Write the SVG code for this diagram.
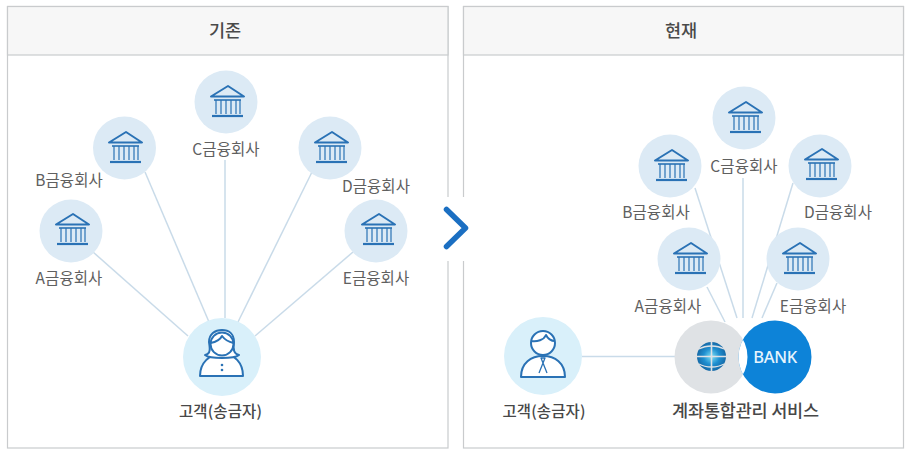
<svg xmlns="http://www.w3.org/2000/svg" width="910" height="455" viewBox="0 0 910 455">
<style>
.panel{fill:#fff;stroke:#c9cbcd;stroke-width:1.2}
.head{fill:#f7f7f7;stroke:#c9cbcd;stroke-width:1.2}
.title{font:500 17.5px "Noto Sans CJK KR","Noto Sans",sans-serif;fill:#4a4a4a;text-anchor:middle}
.lab{font:400 15.5px "Noto Sans CJK KR","Noto Sans",sans-serif;fill:#606060;text-anchor:middle;letter-spacing:.1px}
.labb{font:500 15.5px "Noto Sans CJK KR","Noto Sans",sans-serif;fill:#484848;text-anchor:middle;letter-spacing:.1px}
.bankc{fill:#dceaf5}
.custc{fill:#d9f0fa}
.ic{fill:none;stroke:#2a72b5;stroke-width:2;stroke-linejoin:round}
.icf{fill:#fff;stroke:#2a72b5;stroke-width:2;stroke-linejoin:round}
.conn line{stroke:#c9dbe9;stroke-width:1.5}
</style>
<defs>
<g id="bank">
<path class="ic" d="M-16 -5.500L1 -16L17 -5.500Z"/>
<path d="M-13 -2H14" fill="none" stroke="#2a72b5" stroke-width="1.600"/>
<path d="M-11 -2V12M-6 -2V12M-1 -2V12M4 -2V12M9 -2V12M13 -2V12" fill="none" stroke="#2a72b5" stroke-width="1.200"/>
<path d="M-15 14H16" fill="none" stroke="#2a72b5" stroke-width="2.200"/>
</g>
<radialGradient id="globe" cx=".5" cy=".5" r=".55">
<stop offset="0" stop-color="#7fe0f5"/><stop offset=".5" stop-color="#1f8fd0"/><stop offset="1" stop-color="#14629f"/>
</radialGradient>
<clipPath id="lens"><circle cx="711" cy="357" r="36.500"/></clipPath>
</defs>
<rect width="910" height="455" fill="#fff"/>
<g id="panel-left">
<rect class="panel" x="7.500" y="6.500" width="440.500" height="441.500"/>
<rect class="head" x="7.500" y="6.500" width="440.500" height="48.500"/>
<text class="title" x="225" y="36.500">기존</text>
</g>
<g id="panel-right">
<rect class="panel" x="463.500" y="6.500" width="440" height="441.500"/>
<rect class="head" x="463.500" y="6.500" width="440" height="48.500"/>
<text class="title" x="681" y="36.500">현재</text>
</g>
<g class="conn" id="connectors">
<line x1="93" y1="252" x2="188" y2="336"/>
<line x1="145" y1="172" x2="209" y2="322"/>
<line x1="225" y1="160" x2="225" y2="318"/>
<line x1="312" y1="172" x2="238" y2="322"/>
<line x1="353" y1="252" x2="255" y2="336"/>
<line x1="707" y1="287" x2="725" y2="322"/>
<line x1="695" y1="188" x2="737" y2="318"/>
<line x1="743" y1="178" x2="743" y2="318"/>
<line x1="793" y1="183" x2="752" y2="318"/>
<line x1="777" y1="283" x2="762" y2="318"/>
<line x1="582" y1="356.500" x2="676" y2="356.500"/>
</g>
<g id="arrow">
<rect x="440" y="197" width="32" height="64" fill="#fff"/>
<path d="M446.500 209.500L465.500 228L446.500 246.500" fill="none" stroke="#1b6fc2" stroke-width="5.500" stroke-linecap="round" stroke-linejoin="round"/>
</g>
<g id="a-left"><circle class="bankc" cx="71" cy="231" r="31.500"/><use href="#bank" x="72" y="230"/><text class="lab" x="69" y="284">A금융회사</text></g>
<g id="b-left"><circle class="bankc" cx="124.500" cy="148" r="31.500"/><use href="#bank" x="125" y="148"/><text class="lab" x="69" y="186">B금융회사</text></g>
<g id="c-left"><circle class="bankc" cx="226" cy="102" r="31.500"/><use href="#bank" x="227" y="102"/><text class="lab" x="226" y="155">C금융회사</text></g>
<g id="d-left"><circle class="bankc" cx="330" cy="148" r="31.500"/><use href="#bank" x="331" y="148"/><text class="lab" x="376" y="192">D금융회사</text></g>
<g id="e-left"><circle class="bankc" cx="376" cy="231" r="31.500"/><use href="#bank" x="378" y="230"/><text class="lab" x="376" y="284">E금융회사</text></g>
<g id="customer-left">
<circle class="custc" cx="222" cy="357" r="39"/>
<path class="icf" d="M200 376C200 363 209 354 222 354C235 354 243 363 243 376Z"/>
<path class="icf" d="M205 355C211 354 210 348 209 342C209 334 215 330 222 330C229 330 234 334 234 342C233 348 233 354 239 355C234 359 210 359 205 355Z"/>
<circle class="icf" cx="222" cy="344" r="11.500"/>
<path class="ic" d="M210.500 343C216 342 220 340 222 336C225 340 229 342 233.500 343"/>
<circle cx="222" cy="365" r="1.300" fill="#2a72b5"/><circle cx="222" cy="370" r="1.300" fill="#2a72b5"/>
<text class="labb" x="220.500" y="417">고객(송금자)</text>
</g>
<g id="a-right"><circle class="bankc" cx="689" cy="259" r="31.500"/><use href="#bank" x="690" y="259"/><text class="lab" x="668" y="312">A금융회사</text></g>
<g id="b-right"><circle class="bankc" cx="670" cy="166" r="31.500"/><use href="#bank" x="671" y="166"/><text class="lab" x="656" y="218">B금융회사</text></g>
<g id="c-right"><circle class="bankc" cx="744" cy="118" r="31.500"/><use href="#bank" x="745" y="118"/><text class="lab" x="744" y="172">C금융회사</text></g>
<g id="d-right"><circle class="bankc" cx="820" cy="166" r="31.500"/><use href="#bank" x="821" y="165"/><text class="lab" x="838" y="218">D금융회사</text></g>
<g id="e-right"><circle class="bankc" cx="798" cy="259" r="31.500"/><use href="#bank" x="799" y="259"/><text class="lab" x="813" y="312">E금융회사</text></g>
<g id="customer-right">
<circle class="custc" cx="543" cy="356" r="39"/>
<path class="icf" d="M521 377C521 363 531 356 543 356C555 356 565 363 565 377Z"/>
<circle class="icf" cx="543" cy="343" r="12"/>
<path class="ic" d="M531 341C537 342 544 340 546 335C548 339 552 341 555 341"/>
<path class="ic" style="stroke-width:1.300" d="M541 358H545L543 363ZM543 363L539 373M543 363L547 373"/>
<text class="labb" x="544" y="417">고객(송금자)</text>
</g>
<g id="service">
<circle cx="711" cy="357" r="36.500" fill="#dfe2e5"/>
<circle cx="775" cy="357" r="36.500" fill="#0d83d8"/>
<circle cx="775" cy="357" r="36.500" fill="#fff" clip-path="url(#lens)"/>
<circle cx="711.500" cy="356.500" r="14.500" fill="url(#globe)"/>
<path d="M711.500 342V371M697 356.500H726" stroke="#dfe2e5" stroke-width="1.600" fill="none"/>
<path d="M699 349C706 345 717 345 724 349M699 364C706 368 717 368 724 364" stroke="#dfe2e5" stroke-width="1.300" fill="none"/>
<text x="775" y="363" text-anchor="middle" font-family="'Noto Sans','Liberation Sans',sans-serif" font-size="16.500" font-weight="500" fill="#e6f4fd" letter-spacing="-.3">BANK</text>
<text class="labb" x="745.500" y="417" style="font-size:17.500px;letter-spacing:-.2px">계좌통합관리 서비스</text>
</g>
</svg>
